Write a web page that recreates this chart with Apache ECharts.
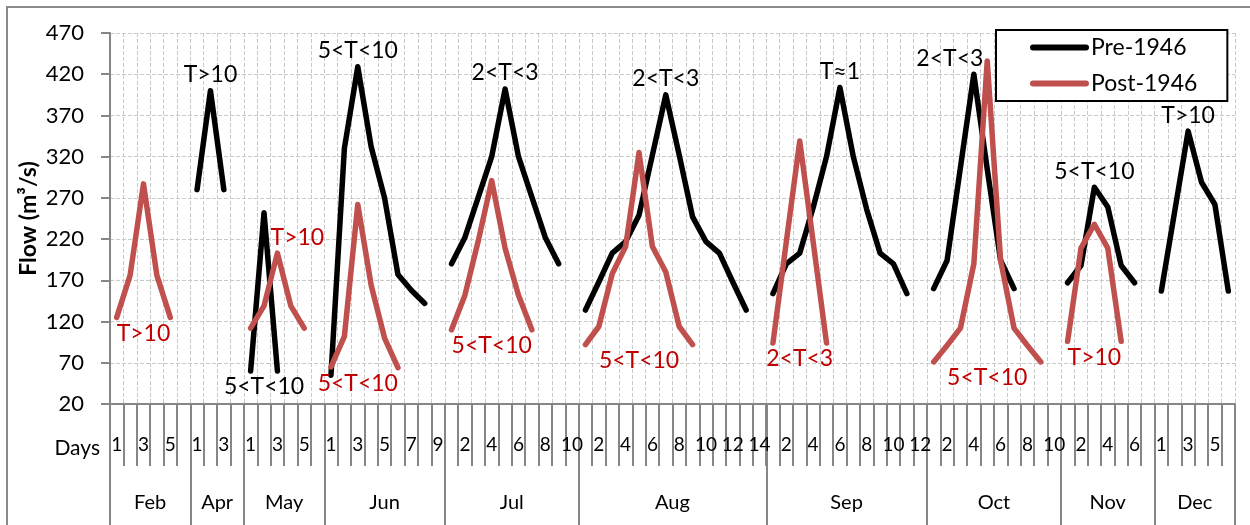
<!DOCTYPE html>
<html>
<head>
<meta charset="utf-8">
<script src="https://cdn.jsdelivr.net/npm/echarts@6/dist/echarts.min.js"></script>
<style>
  html, body { margin: 0; padding: 0; background: #ffffff; }
  #chart { width: 1250px; height: 525px; }
</style>
</head>
<body>
<div id="chart"></div>
<script>
// Months shown and the number of daily slots each one occupies on the axis
const months = ['Feb', 'Apr', 'May', 'Jun', 'Jul', 'Aug', 'Sep', 'Oct', 'Nov', 'Dec'];
const monthDays = [6, 4, 6, 9, 10, 14, 12, 10, 7, 6];

// Daily flow (m3/s) around each flood peak, pre-1946 record
const preFlow = [
  [null, null, null, null, null, null],
  [280, 400, 280, null],
  [60, 252, 60, null, null, null],
  [55, 330, 429, 332, 270, 177, 158, 142, null],
  [190, 222, 271, 320, 402, 320, 271, 222, 190, null],
  [134, 168, 203, 217, 249, 322, 395, 322, 247, 217, 203, 168, 134, null],
  [154, 190, 203, 258, 320, 404, 320, 256, 203, 190, 154, null],
  [160, 194, 307, 420, 305, 194, 160, null, null, null],
  [167, 188, 283, 259, 188, 167, null],
  [157, 254, 351, 289, 262, 157]
];

// Daily flow (m3/s) around each flood peak, post-1946 record
const postFlow = [
  [125, 176, 287, 176, 125, null],
  [null, null, null, null],
  [112, 139, 203, 139, 112, null],
  [65, 102, 262, 164, 100, 64, null, null, null],
  [110, 152, 218, 291, 209, 152, 110, null, null, null],
  [92, 114, 178, 211, 325, 211, 180, 114, 92, null, null, null, null, null],
  [94, 217, 339, 217, 94, null, null, null, null, null, null, null],
  [71, 91, 112, 190, 436, 194, 112, 91, 71, null],
  [96, 209, 238, 209, 96, null, null],
  [null, null, null, null, null, null]
];

// Return-period notes for each event
const preNotes = ['', 'T>10', '5<T<10', '5<T<10', '2<T<3', '2<T<3', 'T≈1', '2<T<3', '5<T<10', 'T>10'];
const postNotes = ['T>10', '', 'T>10', '5<T<10', '5<T<10', '5<T<10', '2<T<3', '5<T<10', 'T>10', ''];

// ---- layout / style helpers ----
const FONT = 'Lato, "Open Sans", sans-serif';
const AXIS_GREY = '#868686';
const GRID_GREY = '#c9c9c9';
const PRE_COLOR = '#000000';
const POST_COLOR = '#c0504d';
const NOTE_RED = '#c00000';

// note placement: above the peak ('top') or under the event's low point ('bottom')
const preSide = { May: 'bottom' };
const postSide = { May: 'top' };
const preShift = { Oct: [-24, 0] };
const postShift = { May: [20, 0] };

const dayLabels = [];
const monthStart = [];
let total = 0;
monthDays.forEach(n => {
  monthStart.push(total);
  for (let d = 1; d <= n; d++) dayLabels.push(String(d));
  total += n;
});
const monthEdges = monthStart.concat([total]);
const monthCenters = monthStart.map((s, i) => s + monthDays[i] / 2);

const flat = rows => rows.reduce((acc, r) => acc.concat(r), []);

function notePoints(rows, notes, sideMap, shiftMap, defSide, color) {
  const pts = [];
  rows.forEach((row, m) => {
    const text = notes[m];
    if (!text) return;
    const side = sideMap[months[m]] || defSide;
    let pk = -1, lo = Infinity;
    row.forEach((v, d) => {
      if (v == null) return;
      if (pk < 0 || v > row[pk]) pk = d;
      if (v < lo) lo = v;
    });
    const yv = side === 'top' ? row[pk] : lo;
    pts.push({
      coord: [monthStart[m] + pk, yv],
      label: {
        show: true, formatter: text, position: side, distance: 4,
        offset: shiftMap[months[m]] || [0, 0],
        color: color, fontSize: 23, fontFamily: FONT
      }
    });
  });
  return pts;
}

const chart = echarts.init(document.getElementById('chart'), null, { renderer: 'canvas' });

const option = {
  backgroundColor: '#ffffff',
  animation: false,
  graphic: [{
    type: 'rect', silent: true, z: -10,
    shape: { x: 7, y: 7, width: 1270, height: 560 },
    style: { fill: null, stroke: '#8a8a8a', lineWidth: 2 }
  }],
  grid: { left: 110, right: 15, top: 33, bottom: 121, containLabel: false },
  legend: {
    orient: 'vertical', left: 996, top: 30,
    backgroundColor: '#ffffff', borderColor: '#000000', borderWidth: 2, borderRadius: 0,
    padding: [6, 30, 6, 34],
    itemWidth: 53, itemHeight: 16, itemGap: 13,
    lineStyle: { width: 6, cap: 'round' },
    itemStyle: { color: 'rgba(0,0,0,0)', borderColor: 'rgba(0,0,0,0)', borderWidth: 0, opacity: 0 },
    textStyle: { fontSize: 23, fontFamily: FONT, color: '#000000' },
    data: ['Pre-1946', 'Post-1946']
  },
  xAxis: [
    {
      type: 'category', data: dayLabels, boundaryGap: true, position: 'bottom',
      axisLine: { show: true, lineStyle: { color: AXIS_GREY, width: 2 } },
      axisTick: { show: true, interval: 0, length: 62, lineStyle: { color: AXIS_GREY, width: 2 } },
      axisLabel: { interval: 1, margin: 41, verticalAlign: 'middle', color: '#000', fontSize: 19, fontFamily: FONT },
      splitLine: { show: true, interval: 0, lineStyle: { color: GRID_GREY, type: 'dashed', width: 1 } }
    },
    {
      type: 'value', min: 0, max: total, position: 'bottom',
      axisLine: { show: false },
      splitLine: { show: false },
      axisTick: { show: true, customValues: monthEdges, length: 125, lineStyle: { color: AXIS_GREY, width: 2 } },
      axisLabel: {
        customValues: monthCenters, margin: 99, verticalAlign: 'middle',
        color: '#000', fontSize: 20, fontFamily: FONT,
        formatter: v => months[monthCenters.indexOf(v)] || ''
      }
    },
    {
      type: 'value', min: 0, max: total, position: 'bottom', offset: 44,
      axisLine: { show: false }, axisTick: { show: false }, axisLabel: { show: false }, splitLine: { show: false },
      name: 'Days', nameLocation: 'start', nameGap: 10,
      nameTextStyle: { fontSize: 21, fontFamily: FONT, color: '#000', verticalAlign: 'middle' }
    }
  ],
  yAxis: {
    type: 'value', min: 20, max: 470, interval: 50,
    name: 'Flow (m³/s)', nameLocation: 'middle', nameRotate: 90, nameGap: 70,
    nameMoveOverlap: false,
    nameTextStyle: { fontSize: 23, fontWeight: 'bold', fontFamily: FONT, color: '#000' },
    axisLine: { show: true, lineStyle: { color: AXIS_GREY, width: 2 } },
    axisTick: { show: true, length: 9, lineStyle: { color: AXIS_GREY, width: 2 } },
    axisLabel: { margin: 26, color: '#000', fontSize: 22, fontFamily: FONT },
    splitLine: { show: true, lineStyle: { color: GRID_GREY, type: 'dashed', width: 1 } }
  },
  series: [
    {
      name: 'Pre-1946', type: 'line', data: flat(preFlow), connectNulls: false,
      symbol: 'none', color: PRE_COLOR,
      lineStyle: { color: PRE_COLOR, width: 5.5, cap: 'round', join: 'round' },
      markPoint: {
        symbol: 'circle', symbolSize: 1, itemStyle: { color: 'rgba(0,0,0,0)' },
        data: notePoints(preFlow, preNotes, preSide, preShift, 'top', '#000000')
      },
      z: 3
    },
    {
      name: 'Post-1946', type: 'line', data: flat(postFlow), connectNulls: false,
      symbol: 'none', color: POST_COLOR,
      lineStyle: { color: POST_COLOR, width: 5.5, cap: 'round', join: 'round' },
      markPoint: {
        symbol: 'circle', symbolSize: 1, itemStyle: { color: 'rgba(0,0,0,0)' },
        data: notePoints(postFlow, postNotes, postSide, postShift, 'bottom', NOTE_RED)
      },
      z: 4
    }
  ]
};

chart.setOption(option);
</script>
</body>
</html>
